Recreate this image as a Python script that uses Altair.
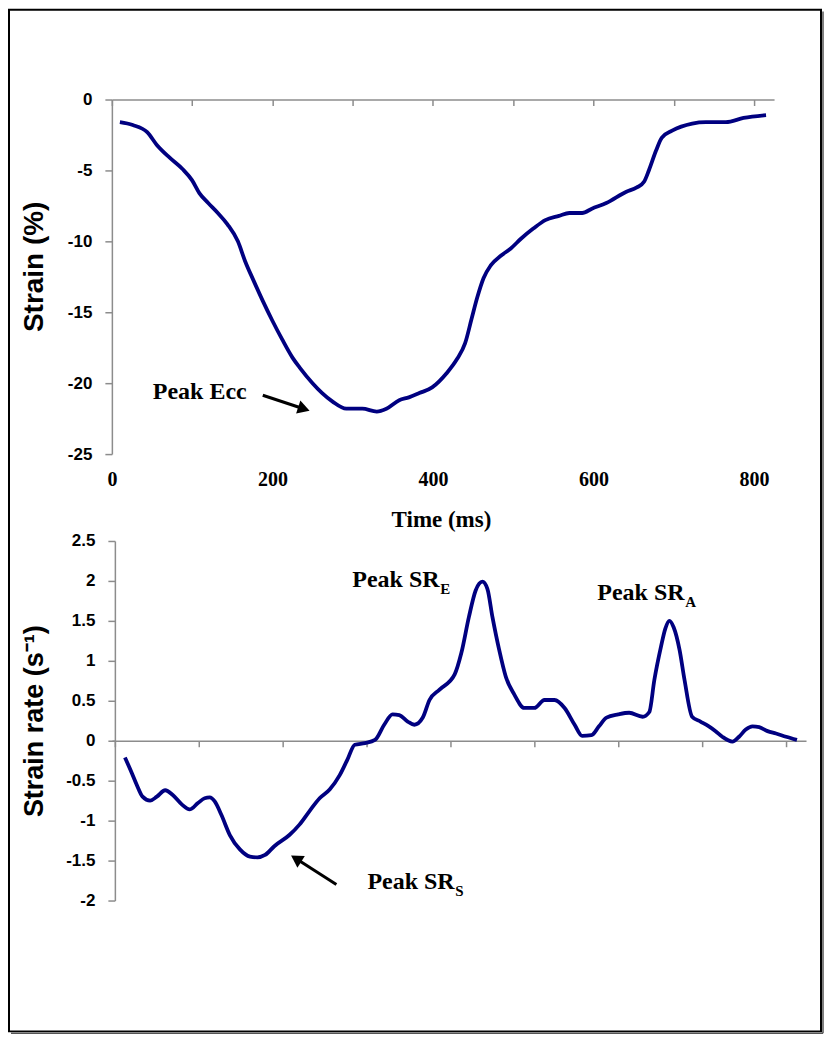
import altair as alt
import pandas as pd

# ---------------- data ----------------
strain_time = [10, 26, 44, 56, 72, 88, 100, 109, 120, 132,
               144, 157, 166, 176, 188, 200, 212, 225, 234, 250,
               262, 275, 292, 312, 330, 342, 358, 370, 383, 399,
               417, 430, 440, 448, 455, 463, 472, 485, 497, 510,
               525, 540, 557, 570, 586, 598, 616, 641, 654, 663,
               669, 678, 685, 698, 723, 740, 765, 787, 815]
strain_value = [-1.6, -1.8, -2.3, -3.2, -4.1, -4.9, -5.7, -6.6, -7.3, -8.0,
                -8.8, -10.0, -11.4, -12.7, -14.2, -15.6, -16.9, -18.2, -18.9, -20.0,
                -20.7, -21.3, -21.8, -21.8, -22.0, -21.8, -21.2, -21.0, -20.7, -20.3,
                -19.3, -18.3, -17.2, -15.5, -14.0, -12.6, -11.7, -11.0, -10.5, -9.8,
                -9.1, -8.5, -8.2, -8.0, -8.0, -7.7, -7.3, -6.5, -6.2, -5.8,
                -5.0, -3.6, -2.7, -2.2, -1.7, -1.6, -1.6, -1.3, -1.1]

rate_time = [12, 20, 26, 33, 42, 50, 60, 69, 80, 89,
             99, 107, 113, 119, 127, 137, 149, 161, 170, 179,
             190, 208, 220, 232, 244, 256, 268, 277, 286, 298,
             310, 321, 331, 339, 349, 357, 367, 375, 387, 405,
             413, 422, 430, 438, 444, 450, 458, 466, 476, 488,
             500, 512, 524, 536, 548, 557, 568, 577, 586, 600,
             613, 629, 637, 643, 651, 656, 661, 666, 673, 679,
             688, 698, 708, 716, 724, 736, 744, 752, 760, 768,
             778, 788, 800, 813]
rate_value = [-0.21, -0.40, -0.55, -0.70, -0.75, -0.70, -0.62, -0.68, -0.80, -0.86,
              -0.78, -0.72, -0.71, -0.76, -0.93, -1.18, -1.36, -1.45, -1.46, -1.43,
              -1.32, -1.18, -1.05, -0.88, -0.72, -0.61, -0.43, -0.24, -0.05, -0.03,
              0.01, 0.20, 0.33, 0.32, 0.24, 0.20, 0.29, 0.51, 0.64, 0.83,
              1.10, 1.55, 1.88, 1.99, 1.90, 1.55, 1.14, 0.80, 0.58, 0.41,
              0.41, 0.51, 0.51, 0.41, 0.20, 0.06, 0.07, 0.18, 0.29, 0.33,
              0.35, 0.30, 0.36, 0.76, 1.18, 1.40, 1.50, 1.42, 1.14, 0.76,
              0.30, 0.24, 0.18, 0.12, 0.05, -0.01, 0.05, 0.14, 0.18, 0.17,
              0.12, 0.09, 0.05, 0.01]

time_ticks = [0, 100, 200, 300, 400, 500, 600, 700, 800]
strain_ticks = [-25, -20, -15, -10, -5, 0]
rate_ticks = [-2, -1.5, -1, -0.5, 0, 0.5, 1, 1.5, 2, 2.5]

# annotations (data coordinates)
ecc_text = {"t": [51], "v": [-21.13], "label": ["Peak Ecc"]}
ecc_shaft_pts = {"t": [188], "v": [-20.85], "t2": [236.9], "v2": [-21.77]}
ecc_head_pt = {"t": [236.9], "v": [-21.77]}
sr_text = {"t": [283, 575, 301], "v": [1.925, 1.76, -1.86],
           "label": ["Peak SR", "Peak SR", "Peak SR"], "sub": ["E", "A", "S"]}
srs_shaft_pts = {"t": [264], "v": [-1.8], "t2": [218], "v2": [-1.49]}
srs_head_pt = {"t": [218], "v": [-1.49]}

# ---------------- styling ----------------
NAVY = "#000080"
GRAY = "#8c8c8c"
SERIF = "Liberation Serif"
SANS = "Liberation Sans"
W1, H1 = 663, 355
W2, H2 = 695, 360

strain_df = pd.DataFrame({"t": strain_time, "v": strain_value})
rate_df = pd.DataFrame({"t": rate_time, "v": rate_value})

# ---------------- top panel ----------------
x_top = alt.X(
    "t:Q",
    scale=alt.Scale(domain=[0, 825], nice=False, zero=False),
    axis=alt.Axis(
        orient="bottom", offset=-H1, values=time_ticks, grid=False,
        tickSize=6, tickColor=GRAY, tickWidth=1.5,
        domainColor=GRAY, domainWidth=1.5,
        labelExpr="datum.value % 200 === 0 ? datum.value + '' : ''",
        labelFont=SERIF, labelFontSize=20, labelFontWeight="bold", labelColor="black",
        labelPadding=380, labelBaseline="alphabetic", labelFlush=False, labelOverlap=False,
        title="Time (ms)", titleFont=SERIF, titleFontSize=23, titleFontWeight="bold",
        titleColor="black", titleX=W1 / 2 - 2, titleY=428, titleBaseline="alphabetic",
    ),
)
y_top = alt.Y(
    "v:Q",
    scale=alt.Scale(domain=[-25, 0], nice=False, zero=False),
    axis=alt.Axis(
        values=strain_ticks, grid=False, labelExpr="datum.value + ''",
        labelOverlap=False, labelFlush=False,
        tickSize=7, tickColor=GRAY, tickWidth=1.5, domainColor=GRAY, domainWidth=1.5,
        labelFont=SANS, labelFontSize=17, labelFontWeight="bold", labelColor="black",
        labelPadding=13,
        title="Strain (%)", titleFont=SANS, titleFontSize=28, titleFontWeight="bold",
        titleColor="black", titleX=-69, titleY=167, titleAngle=270,
        titleAlign="center", titleBaseline="alphabetic",
    ),
)

top_line = alt.Chart(strain_df).mark_line(
    color=NAVY, strokeWidth=3.8, interpolate="monotone"
).encode(x=x_top, y=y_top)

ecc_label = alt.Chart(pd.DataFrame(ecc_text)).mark_text(
    align="left", baseline="alphabetic", font=SERIF, fontSize=24,
    fontWeight="bold", color="black"
).encode(x=x_top, y=y_top, text="label:N")

ecc_shaft = alt.Chart(pd.DataFrame(ecc_shaft_pts)).mark_rule(color="black", strokeWidth=3).encode(
    x=x_top, y=y_top, x2=alt.X2("t2"), y2=alt.Y2("v2"))
ecc_head = alt.Chart(pd.DataFrame(ecc_head_pt)).mark_point(
    shape="triangle", filled=True, color="black", size=190, angle=108, opacity=1
).encode(x=x_top, y=y_top)

one = pd.DataFrame({"k": [0]})
frame = alt.Chart(one).mark_rect(
    filled=False, stroke="black", strokeWidth=2
).encode(x=alt.value(-103), x2=alt.value(710), y=alt.value(-90), y2=alt.value(933))
shadow_r = alt.Chart(one).mark_rule(color="#555555", strokeWidth=1.5).encode(
    x=alt.value(712), y=alt.value(-88), y2=alt.value(935))
shadow_b = alt.Chart(one).mark_rule(color="#555555", strokeWidth=1.5).encode(
    x=alt.value(-101), x2=alt.value(712), y=alt.value(935))

top = alt.layer(top_line, ecc_label, ecc_shaft, ecc_head, frame, shadow_r, shadow_b).properties(
    width=W1, height=H1)

# ---------------- bottom panel ----------------
x_bot = alt.X(
    "t:Q",
    scale=alt.Scale(domain=[-3.6, 823.8], nice=False, zero=False),
    axis=alt.Axis(
        orient="bottom", offset=-160, values=time_ticks, grid=False, labels=False,
        tickSize=6, tickColor=GRAY, tickWidth=1.5, domainColor=GRAY, domainWidth=1.5,
        title=None,
    ),
)
y_bot = alt.Y(
    "v:Q",
    scale=alt.Scale(domain=[-2, 2.5], nice=False, zero=False),
    axis=alt.Axis(
        values=rate_ticks, offset=-3, grid=False, labelExpr="datum.value + ''",
        labelOverlap=False, labelFlush=False,
        tickSize=7, tickColor=GRAY, tickWidth=1.5, domainColor=GRAY, domainWidth=1.5,
        labelFont=SANS, labelFontSize=17, labelFontWeight="bold", labelColor="black",
        labelPadding=13,
        title="Strain rate (s⁻¹)", titleFont=SANS, titleFontSize=27, titleFontWeight="bold",
        titleColor="black", titleX=-72, titleY=180, titleAngle=270,
        titleAlign="center", titleBaseline="alphabetic",
    ),
)

bot_line = alt.Chart(rate_df).mark_line(
    color=NAVY, strokeWidth=3.8, interpolate="monotone"
).encode(x=x_bot, y=y_bot)

sr_df = pd.DataFrame(sr_text)
sr_main = alt.Chart(sr_df).mark_text(
    align="left", baseline="alphabetic", font=SERIF, fontSize=24,
    fontWeight="bold", color="black"
).encode(x=x_bot, y=y_bot, text="label:N")
sr_sub = alt.Chart(sr_df).mark_text(
    align="left", baseline="alphabetic", font=SERIF, fontSize=15,
    fontWeight="bold", color="black", dx=88, dy=7
).encode(x=x_bot, y=y_bot, text="sub:N")

srs_shaft = alt.Chart(pd.DataFrame(srs_shaft_pts)).mark_rule(color="black", strokeWidth=3).encode(
    x=x_bot, y=y_bot, x2=alt.X2("t2"), y2=alt.Y2("v2"))
srs_head = alt.Chart(pd.DataFrame(srs_head_pt)).mark_point(
    shape="triangle", filled=True, color="black", size=190, angle=302.5, opacity=1
).encode(x=x_bot, y=y_bot)

bottom = alt.layer(bot_line, sr_main, sr_sub, srs_shaft, srs_head).properties(
    width=W2, height=H2)

chart = alt.vconcat(top, bottom, spacing=87, bounds="flush").properties(
    padding={"left": 0, "top": 0, "right": 0, "bottom": 0}
).configure_view(stroke=None)

chart.save("out.html", embed_options={"renderer": "svg", "actions": False})
